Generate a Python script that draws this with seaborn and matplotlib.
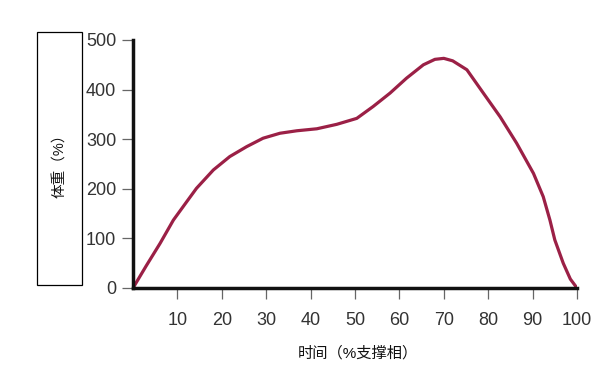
import matplotlib
matplotlib.use("Agg")
import matplotlib.pyplot as plt
from matplotlib.patches import Rectangle
import seaborn as sns
import pandas as pd

# Data (time in % stance, load in % body weight)
time_pct = [0, 3.0, 6.1, 9.1, 12.1, 14.3, 18.1, 21.8, 25.6, 29.3, 33.1, 36.9,
            41.4, 45.9, 50.4, 54.1, 57.9, 61.6, 65.4, 68.0, 70.0, 72.0, 75.2,
            78.9, 82.7, 86.4, 90.2, 92.4, 93.9, 95.0, 96.9, 98.5, 100]
body_weight = [0, 45, 90, 137, 174, 201, 238, 265, 285, 302, 312, 317,
               321, 330, 342, 366, 393, 423, 450, 461, 463, 458, 440,
               393, 345, 292, 231, 184, 137, 97, 50, 18, 0]
x_ticks = [10, 20, 30, 40, 50, 60, 70, 80, 90, 100]
y_ticks = [0, 100, 200, 300, 400, 500]
x_label = "时间（%支撑相）"
y_label = "体重（%）"

sns.set_theme(style="white")
plt.rcParams['font.family'] = ['Liberation Sans', 'Noto Sans CJK SC', 'DejaVu Sans']

df = pd.DataFrame({"time": time_pct, "bw": body_weight})

fig = plt.figure(figsize=(6.07, 3.69), dpi=100)
ax = fig.add_axes([133/607, 1-288/369, (577-133)/607, (288-40)/369])

sns.lineplot(data=df, x="time", y="bw", ax=ax, color="#9B2046", linewidth=2.3,
             solid_capstyle="round", solid_joinstyle="round")

ax.set_xlim(0, 100)
ax.set_ylim(0, 500)
ax.set_xticks(x_ticks)
ax.set_yticks(y_ticks)
ax.tick_params(axis="both", which="major", direction="out", length=8, width=0.9,
               color="#666666", labelcolor="#333333", labelsize=13, pad=4,
               bottom=True, left=True)
ax.tick_params(axis="x", pad=9)
for side in ["top", "right"]:
    ax.spines[side].set_visible(False)
for side in ["left", "bottom"]:
    ax.spines[side].set_color("#111111")
    ax.spines[side].set_linewidth(2.5)
ax.set_xlabel("")
ax.set_ylabel("")

fig.text(358/607, 1-353/369, x_label, ha="center", va="center", fontsize=11,
         color="#111111")
fig.patches.append(Rectangle((37/607, 1-285/369), 45/607, 253/369,
                             transform=fig.transFigure, fill=False,
                             edgecolor="black", linewidth=0.9))
fig.text(60/607, 1-162/369, y_label, ha="center", va="center", rotation=90,
         fontsize=10.5, color="#111111")

fig.savefig("out.png", dpi=100)
